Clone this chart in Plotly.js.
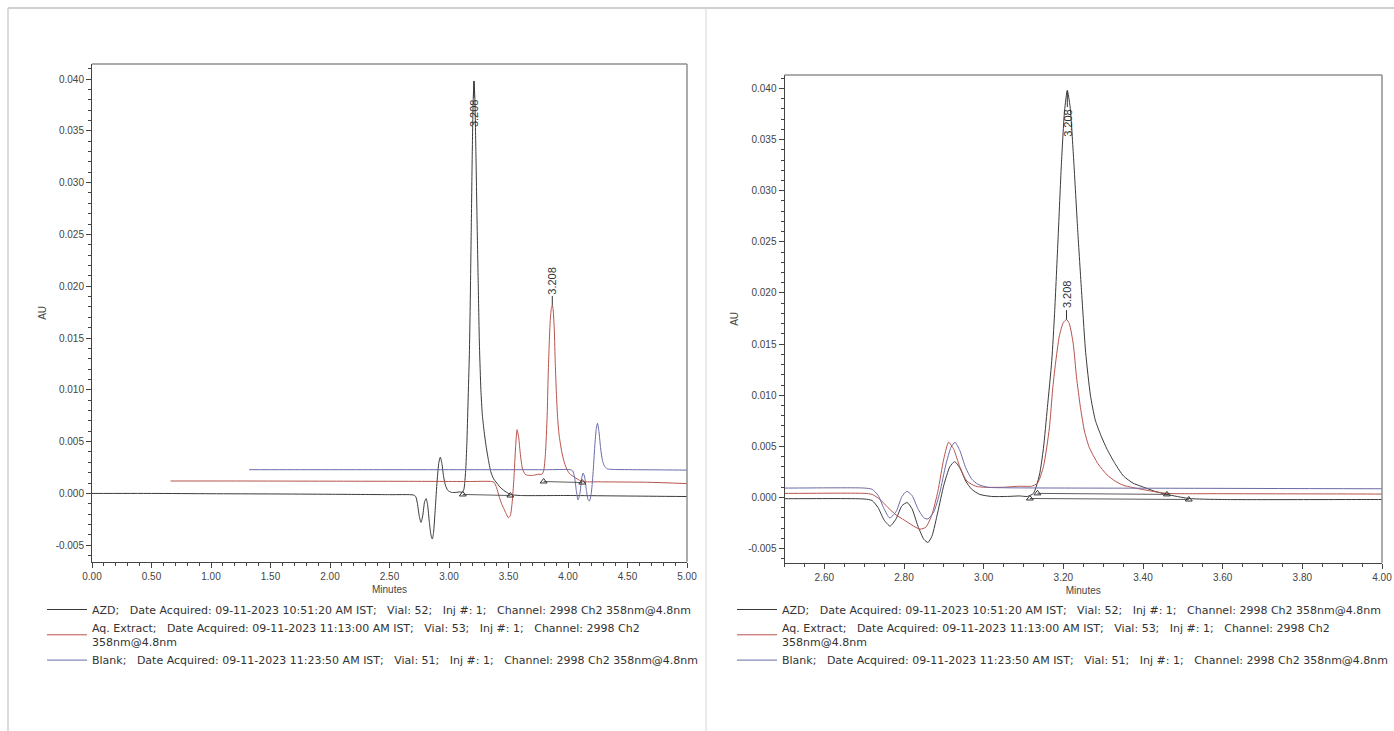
<!DOCTYPE html>
<html>
<head>
<meta charset="utf-8">
<script src="https://cdn.plot.ly/plotly-3.0.1.min.js"></script>
<style>
html,body{margin:0;padding:0;background:#fff;}
#chart{width:1394px;height:731px;}
</style>
</head>
<body>
<div id="chart"></div>
<script>
// ---------- DATA ----------
// AZD standard, Channel 2998 Ch2 358nm
const azdTime = [0.00, 0.50, 1.00, 1.50, 2.00, 2.50, 2.70, 2.72, 2.735, 2.75, 2.765, 2.78, 2.795, 2.808, 2.82, 2.835, 2.85, 2.86, 2.87, 2.885, 2.90, 2.915, 2.927, 2.94, 2.955, 2.97, 2.99, 3.02, 3.06, 3.09, 3.11, 3.125, 3.14, 3.15, 3.16, 3.171, 3.178, 3.187, 3.195, 3.203, 3.210, 3.217, 3.226, 3.236, 3.246, 3.256, 3.268, 3.28, 3.295, 3.31, 3.33, 3.351, 3.375, 3.395, 3.43, 3.46, 3.515, 3.60, 4.00, 4.50, 5.00];
const azdAU = [0.0000, 0.0000, -0.00003, -0.00005, -0.00008, -0.00012, -0.00015, -0.0003, -0.0010, -0.0022, -0.0028, -0.0021, -0.0008, -0.0005, -0.0011, -0.0028, -0.0041, -0.0044, -0.0038, -0.0014, 0.0012, 0.0030, 0.0035, 0.0029, 0.0016, 0.0008, 0.0003, 0.0001, 0.0001, 0.00015, 0.0001, 0.0004, 0.0022, 0.0048, 0.0088, 0.0134, 0.0180, 0.0255, 0.0325, 0.0378, 0.0398, 0.0382, 0.0330, 0.0262, 0.0200, 0.0142, 0.0100, 0.0076, 0.0060, 0.0047, 0.0033, 0.0021, 0.0014, 0.0011, 0.0006, 0.0003, -0.0001, -0.0002, -0.0002, -0.00025, -0.0003];

// Aq. Extract
const extractTime = [0.00, 0.50, 1.00, 1.50, 2.00, 2.50, 2.70, 2.72, 2.74, 2.76, 2.78, 2.80, 2.82, 2.84, 2.855, 2.87, 2.885, 2.90, 2.912, 2.925, 2.94, 2.958, 2.98, 3.00, 3.05, 3.09, 3.12, 3.135, 3.15, 3.165, 3.173, 3.18, 3.19, 3.20, 3.208, 3.215, 3.225, 3.233, 3.243, 3.253, 3.265, 3.287, 3.31, 3.33, 3.35, 3.374, 3.417, 3.46, 3.60, 4.00, 4.34];
const extractAU = [0.00045, 0.00045, 0.00044, 0.00043, 0.00042, 0.0004, 0.0004, 0.0003, -0.0002, -0.0010, -0.0017, -0.0022, -0.0027, -0.0031, -0.0029, -0.0017, 0.0006, 0.0038, 0.0054, 0.0047, 0.0030, 0.0016, 0.0011, 0.0010, 0.0010, 0.0011, 0.0011, 0.0014, 0.0030, 0.0068, 0.0105, 0.0130, 0.0158, 0.0171, 0.0174, 0.0170, 0.0150, 0.0118, 0.0088, 0.0065, 0.0049, 0.0033, 0.0022, 0.0016, 0.0012, 0.00097, 0.00065, 0.0004, 0.00037, 0.00033, 0.0002];

// Blank
const blankTime = [0.00, 0.50, 1.00, 1.50, 2.00, 2.50, 2.70, 2.72, 2.735, 2.75, 2.764, 2.78, 2.795, 2.807, 2.82, 2.835, 2.85, 2.86, 2.875, 2.89, 2.905, 2.918, 2.928, 2.94, 2.955, 2.97, 2.985, 3.01, 3.05, 3.50, 4.00];
const blankAU = [0.00092, 0.00092, 0.00092, 0.00092, 0.00092, 0.00092, 0.00092, 0.0008, 0.0002, -0.0011, -0.0020, -0.0014, 0.0001, 0.0006, 0.0002, -0.0011, -0.0020, -0.0021, -0.0014, 0.0005, 0.0032, 0.0049, 0.0054, 0.0046, 0.0029, 0.0018, 0.0013, 0.0010, 0.00095, 0.0009, 0.00085];

// Integration baseline points (start, end)
const azdIntegTime = [3.116, 3.515];
const azdIntegAU = [-0.0001, -0.0002];
const extractIntegTime = [3.135, 3.46];
const extractIntegAU = [0.0004, 0.0003];

// Peak labels (retention time)
const peakLabels = ["3.208", "3.208"];

// Overlay offsets of the full-run panel (AZD, Aq. Extract, Blank)
const overlayOffsetMin = [0, 0.66, 1.32];
const overlayOffsetAU = [0, 0.00075, 0.00137];

// Legend information
const sampleNames = ["AZD", "Aq. Extract", "Blank"];
const acquiredDates = ["09-11-2023 10:51:20 AM IST", "09-11-2023 11:13:00 AM IST", "09-11-2023 11:23:50 AM IST"];
const vials = ["52", "53", "51"];
const injections = ["1", "1", "1"];
const channel = "2998 Ch2 358nm@4.8nm";

// Tick labels
const yTickVals = [-0.005, 0.000, 0.005, 0.010, 0.015, 0.020, 0.025, 0.030, 0.035, 0.040];
const yTickText = ["-0.005", "0.000", "0.005", "0.010", "0.015", "0.020", "0.025", "0.030", "0.035", "0.040"];
const xTickValsFull = [0.00, 0.50, 1.00, 1.50, 2.00, 2.50, 3.00, 3.50, 4.00, 4.50, 5.00];
const xTickTextFull = ["0.00", "0.50", "1.00", "1.50", "2.00", "2.50", "3.00", "3.50", "4.00", "4.50", "5.00"];
const xTickValsZoom = [2.60, 2.80, 3.00, 3.20, 3.40, 3.60, 3.80, 4.00];
const xTickTextZoom = ["2.60", "2.80", "3.00", "3.20", "3.40", "3.60", "3.80", "4.00"];

// ---------- STYLE / LAYOUT ----------
const W = 1394, H = 731;
const colors = ["#3a3a3a", "#b8524b", "#6a6aa8"];
const markColor = "#333333";
const FONT = 'Arial, "Liberation Sans", sans-serif';
const LEGEND_FONT = '"DejaVu Sans", Arial, sans-serif';
const NB = "\u00a0";
const gap = NB + NB + NB;

function legendText(i) {
  const head = sampleNames[i] + ";" + gap + "Date Acquired: " + acquiredDates[i] + ";" + gap +
    "Vial: " + vials[i] + ";" + gap + "Inj #: " + injections[i] + ";" + gap + "Channel: ";
  const parts = channel.split(" ");
  if (i === 1) return head + parts[0] + " " + parts[1] + "<br>" + parts[2];
  return head + channel;
}

const series = [
  {t: azdTime, au: azdAU},
  {t: extractTime, au: extractAU},
  {t: blankTime, au: blankAU}
];
const integ = [
  {t: azdIntegTime, au: azdIntegAU, idx: 0},
  {t: extractIntegTime, au: extractIntegAU, idx: 1}
];

const traces = [];
const annotations = [];

function addPanel(xa, ya, legendId, offMin, offAU) {
  series.forEach((s, i) => {
    traces.push({
      type: "scatter", mode: "lines",
      x: s.t.map(v => v + offMin[i]), y: s.au.map(v => v + offAU[i]),
      xaxis: xa, yaxis: ya, legend: legendId,
      name: legendText(i),
      line: {color: colors[i], width: 1, shape: "spline", smoothing: 0.6},
      hoverinfo: "skip"
    });
  });
  integ.forEach(g => {
    traces.push({
      type: "scatter", mode: "lines+markers",
      x: g.t.map(v => v + offMin[g.idx]), y: g.au.map(v => v + offAU[g.idx]),
      xaxis: xa, yaxis: ya, showlegend: false,
      line: {color: markColor, width: 0.8},
      marker: {symbol: "triangle-up-open", size: 6, color: markColor, line: {width: 1, color: markColor}},
      hoverinfo: "skip"
    });
  });
  [0, 1].forEach((i, k) => {
    const s = series[i];
    let m = 0;
    s.au.forEach((v, j) => { if (v > s.au[m]) m = j; });
    annotations.push({
      xref: xa, yref: ya,
      x: s.t[m] + offMin[i], y: s.au[m] + offAU[i],
      text: peakLabels[k], textangle: -90,
      showarrow: true, arrowhead: 0, arrowwidth: 1, arrowcolor: markColor,
      ax: 0, ay: i === 0 ? 32 : -25, standoff: 0,
      font: {family: FONT, size: 11, color: "#333"}
    });
  });
}

addPanel("x", "y", "legend", overlayOffsetMin, overlayOffsetAU);
addPanel("x2", "y2", "legend2", [0, 0, 0], [0, 0, 0]);

const tickFont = {family: FONT, size: 10, color: "#444"};
function xAxis(domain, range, vals, text, minor0, minorDt, anchor) {
  return {
    domain, range, anchor, tickmode: "array", tickvals: vals, ticktext: text,
    ticks: "outside", ticklen: 5, tickwidth: 1, tickcolor: "#444",
    minor: {tickmode: "linear", tick0: minor0, dtick: minorDt, ticks: "outside", ticklen: 3, tickcolor: "#444", showgrid: false},
    showline: true, linecolor: "#444", linewidth: 1, showgrid: false, zeroline: false,
    tickfont: tickFont, automargin: false, fixedrange: true,
    title: {text: "Minutes", font: {family: FONT, size: 10, color: "#444"}, standoff: 5}
  };
}
function yAxis(domain, range, anchor) {
  return {
    domain, range, anchor, tickmode: "array", tickvals: yTickVals, ticktext: yTickText,
    ticks: "outside", ticklen: 5, tickwidth: 1, tickcolor: "#444",
    minor: {tickmode: "linear", tick0: 0, dtick: 0.001, ticks: "outside", ticklen: 3, tickcolor: "#444", showgrid: false},
    showline: true, linecolor: "#444", linewidth: 1, showgrid: false, zeroline: false,
    tickfont: tickFont, automargin: false, fixedrange: true,
    title: {text: "AU", font: {family: FONT, size: 10, color: "#444"}, standoff: 7}
  };
}

const px = v => v / W, py = v => 1 - v / H;

const shapes = [
  {type: "line", xref: "paper", yref: "paper", x0: px(8), x1: 1, y0: py(8), y1: py(8), line: {color: "#cfcfcf", width: 2}},
  {type: "line", xref: "paper", yref: "paper", x0: px(8), x1: px(8), y0: py(8), y1: 0, line: {color: "#cfcfcf", width: 1.5}},
  {type: "line", xref: "paper", yref: "paper", x0: px(706), x1: px(706), y0: py(8), y1: 0, line: {color: "#d6d6d6", width: 1}},
  {type: "line", xref: "x domain", yref: "y domain", x0: 0, x1: 1, y0: 1, y1: 1, line: {color: "#8f8f8f", width: 1.5}},
  {type: "line", xref: "x domain", yref: "y domain", x0: 1, x1: 1, y0: 0, y1: 1, line: {color: "#8f8f8f", width: 1.5}},
  {type: "line", xref: "x2 domain", yref: "y2 domain", x0: 0, x1: 1, y0: 1, y1: 1, line: {color: "#8f8f8f", width: 1.5}},
  {type: "line", xref: "x2 domain", yref: "y2 domain", x0: 1, x1: 1, y0: 0, y1: 1, line: {color: "#8f8f8f", width: 1.5}}
];

const legendFont = {family: LEGEND_FONT, size: 11, color: "#333"};
const layout = {
  width: W, height: H,
  margin: {l: 0, r: 0, t: 0, b: 0},
  paper_bgcolor: "#fff", plot_bgcolor: "#fff",
  showlegend: true,
  xaxis: xAxis([px(92), px(687)], [0, 5], xTickValsFull, xTickTextFull, 0, 0.1, "y"),
  yaxis: yAxis([py(561.7), py(64)], [-0.00659, 0.04145], "x"),
  xaxis2: xAxis([px(784.5), px(1382)], [2.5, 4.0], xTickValsZoom, xTickTextZoom, 2.5, 0.05, "y2"),
  yaxis2: yAxis([py(562.7), py(75)], [-0.00638, 0.04132], "x2"),
  legend: {x: px(42), xanchor: "left", y: py(595), yanchor: "top", font: legendFont, bgcolor: "rgba(0,0,0,0)", itemwidth: 40, traceorder: "normal", valign: "middle"},
  legend2: {x: px(732), xanchor: "left", y: py(595), yanchor: "top", font: legendFont, bgcolor: "rgba(0,0,0,0)", itemwidth: 40, traceorder: "normal", valign: "middle"},
  shapes, annotations
};

Plotly.newPlot("chart", traces, layout, {displayModeBar: false, responsive: false});
</script>
</body>
</html>
